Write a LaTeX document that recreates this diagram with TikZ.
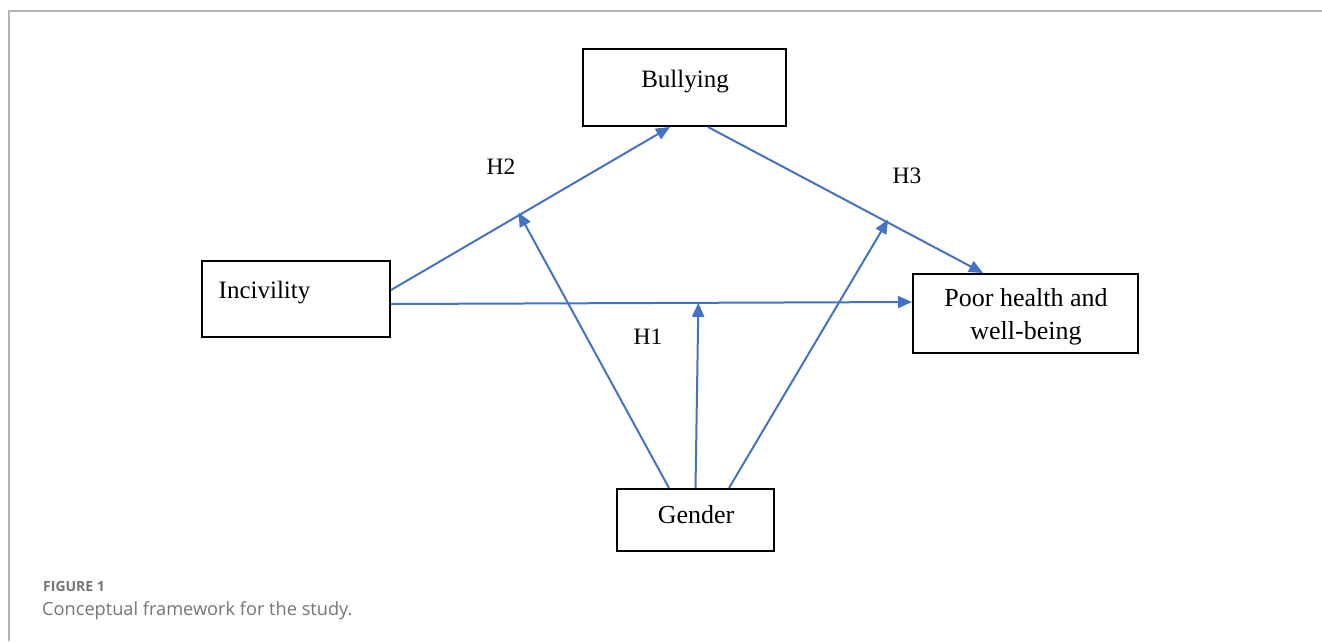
\documentclass[tikz,border=0pt]{standalone}
\usepackage{fontspec}
\setmainfont{Liberation Serif}
\newfontfamily\capfont{Open Sans}
\usetikzlibrary{arrows.meta,calc}
\definecolor{arrblue}{HTML}{4472C4}
\definecolor{framegray}{HTML}{B4B4B4}
\definecolor{capgray}{HTML}{757575}
\tikzset{
  box/.style={draw=black, line width=2pt, fill=white, inner sep=0pt, align=center},
  btxt/.style={font=\fontsize{25}{32}\selectfont, inner sep=0pt, align=center},
  arr/.style={draw=arrblue, line width=2pt, -{Triangle[length=14pt,width=12pt]}},
  hlab/.style={font=\fontsize{23.5}{28}\selectfont, inner sep=0pt},
}
\begin{document}
\begin{tikzpicture}[x=1pt,y=-1pt]
\useasboundingbox (0,0) rectangle (1322,641);
% frame
\draw[framegray, line width=2pt] (9,641) -- (9,11) -- (1322,11);
% boxes
\node[box, minimum width=203pt, minimum height=77pt] (bul) at (684.5,87.5) {};
\node[btxt] (bultxt) at (685,82) {Bullying};
\node[box, minimum width=188pt, minimum height=76pt] (inc) at (296,299) {};
\node[btxt, anchor=west] (inctxt) at (218.5,293) {Incivility};
\node[box, minimum width=225pt, minimum height=79pt] (poor) at (1025.5,313.5) {};
\node[btxt, font=\fontsize{26}{32.5}\selectfont] (poortxt) at (1026,317) {Poor health and\\well-being};
\node[box, minimum width=157pt, minimum height=62pt] (gen) at (695.5,520) {};
\node[btxt, font=\fontsize{26}{32}\selectfont] (gentxt) at (696,515) {Gender};
% main paths
\draw[arr] ([yshift=9pt]inc.east) -- coordinate[pos=0.457] (m2) ([xshift=-14.5pt]bul.south);
\draw[arr] ([xshift=23.5pt]bul.south) -- coordinate[pos=0.655] (m3) ([xshift=-42.5pt]poor.north);
\draw[arr] ([yshift=-5pt]inc.east) -- coordinate[pos=0.59] (m1) ([yshift=11.5pt]poor.west);
% moderation
\draw[arr] ([xshift=-26.5pt]gen.north) -- ([yshift=3pt]m2);
\draw[arr] ([xshift=0pt]gen.north) -- (m1);
\draw[arr] ([xshift=33.5pt]gen.north) -- ([yshift=3pt]m3);
% labels
\node[hlab] (h2) at (501,167) {H2};
\node[hlab] (h3) at (907,176) {H3};
\node[hlab] (h1) at (648,337) {H1};
% caption
\node[anchor=base west, inner sep=0pt, text=capgray, font=\capfont\bfseries\fontsize{14}{16}\selectfont] (figlab) at (43,591) {FIGURE 1};
\node[anchor=base west, inner sep=0pt, text=capgray, font=\capfont\fontsize{18.2}{21}\selectfont] (cap) at (42,615) {Conceptual framework for the study.};
\end{tikzpicture}
\end{document}
